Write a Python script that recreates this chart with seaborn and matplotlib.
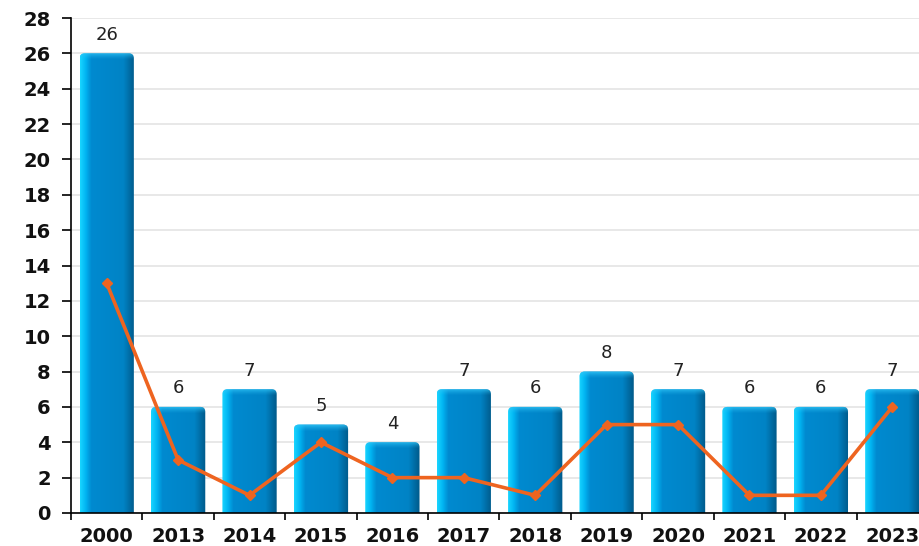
import numpy as np
import pandas as pd
import matplotlib
matplotlib.use("Agg")
import matplotlib.pyplot as plt
import seaborn as sb
from matplotlib.colors import LinearSegmentedColormap, to_rgb
from matplotlib.patches import FancyBboxPatch


years = ["2000", "2013", "2014", "2015", "2016", "2017", "2018", "2019", "2020", "2021", "2022", "2023"]
bar_values = [26, 6, 7, 5, 4, 7, 6, 8, 7, 6, 6, 7]
line_values = [13, 3, 1, 4, 2, 2, 1, 5, 5, 1, 1, 6]

df = pd.DataFrame({"year": years, "count": bar_values, "other": line_values})

sb.set_style("white")
plt.rcParams['font.family'] = ['DejaVu Sans']

fig = plt.figure(figsize=(9.2, 5.46), dpi=100)
ax = fig.add_axes([71 / 920, 33 / 546, 857 / 920, 495 / 546])

pl = sb.barplot(data=df, x="year", y="count", color="#0088cc", width=0.76,
                saturation=1, ax=ax, zorder=2)

# gradient shading on each bar (light left edge, dark right edge), rounded top
grad = LinearSegmentedColormap.from_list(
    "bar", [(0, "#18d4ff"), (0.1, "#00b4f2"), (0.2, "#008ad0"),
            (0.8, "#0083c5"), (1, "#005a8a")])
g = np.linspace(0, 1, 64).reshape(1, -1)

# top bevel: light cyan fading downwards
rim = np.zeros((16, 1, 4))
rim[..., :3] = to_rgb("#30c4f6")
rim[:, 0, 3] = np.linspace(0.95, 0.0, 16) ** 1.5

for p in pl.patches:
    x0, y0 = p.get_x(), p.get_y()
    w, h = p.get_width(), p.get_height()
    p.set_visible(False)
    rp = FancyBboxPatch((x0, y0 - 1), w, h + 1,
                        boxstyle="round,pad=0,rounding_size=0.07",
                        mutation_aspect=4.0, facecolor="none", edgecolor="none",
                        transform=ax.transData)
    ax.add_patch(rp)
    im = ax.imshow(g, cmap=grad, aspect="auto", extent=[x0, x0 + w, y0, y0 + h],
                   zorder=2.5, interpolation="bilinear")
    im.set_clip_path(rp)
    top = ax.imshow(rim, aspect="auto", extent=[x0, x0 + w, y0 + h - 0.4, y0 + h],
                    zorder=2.6, interpolation="bilinear")
    top.set_clip_path(rp)

ax.plot(np.arange(len(years)), line_values, color="#ee6420", lw=2.6,
        marker="D", markersize=5, zorder=4)

for i, v in enumerate(bar_values):
    ax.annotate(str(v), (i, v), xytext=(0, 7), textcoords="offset points",
                ha="center", va="bottom", fontsize=13, color="#222222")

ax.set_xlim(-0.5, len(years) - 0.5)
ax.set_ylim(0, 28)
ax.set_yticks(range(0, 29, 2))
ax.yaxis.grid(True, color="#e4e4e4", lw=1.2, zorder=0)
ax.set_axisbelow(True)

ax.set_xticks(np.arange(len(years)))
ax.set_xticklabels(years)
ax.set_xticks(np.arange(len(years) + 1) - 0.5, minor=True)
ax.tick_params(axis="x", which="both", bottom=True)
ax.tick_params(axis="y", which="both", left=True)
ax.tick_params(axis="x", which="major", length=0, pad=10)
ax.tick_params(axis="x", which="minor", length=5, width=1.2, color="black", direction="out")
ax.tick_params(axis="y", length=6.5, width=1.2, color="black", direction="out", pad=8)
for lab in ax.get_xticklabels() + ax.get_yticklabels():
    lab.set_fontweight("bold")
    lab.set_fontsize(14)
    lab.set_color("#111111")

ax.set_xlabel("")
ax.set_ylabel("")
for s in ["top", "right"]:
    ax.spines[s].set_visible(False)
for s in ["left", "bottom"]:
    ax.spines[s].set_color("black")
    ax.spines[s].set_linewidth(1.2)

plt.savefig("out.png", dpi=100)
